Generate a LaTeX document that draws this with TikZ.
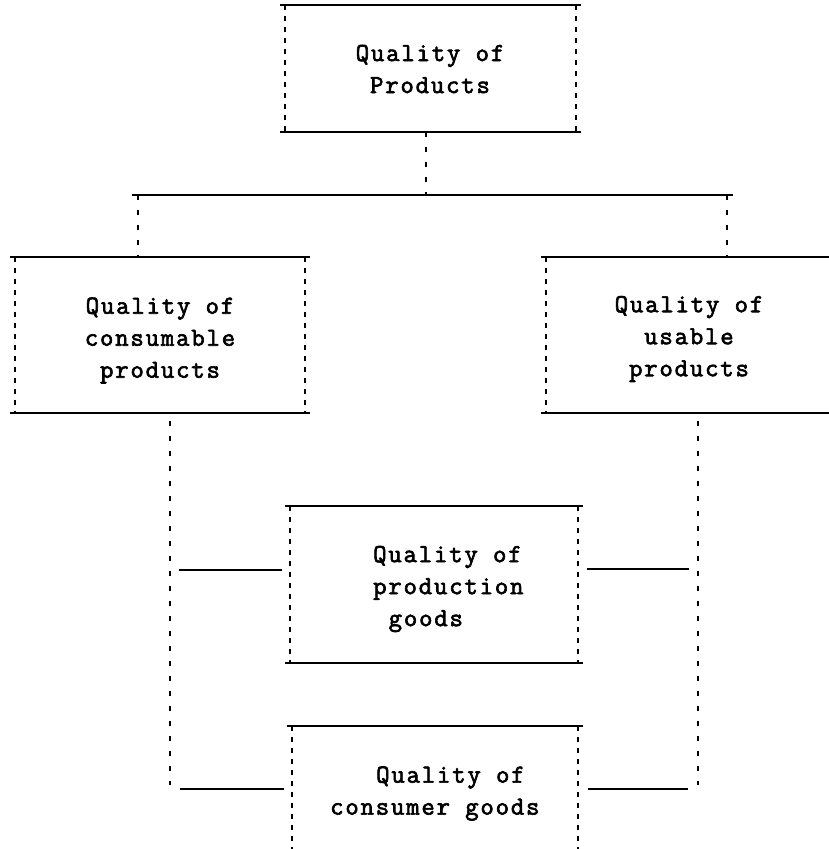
\documentclass[tikz,border=0pt]{standalone}
\usepackage{fontspec}
\newfontfamily\qualfont{Latin Modern Mono}[LetterSpace=7,FakeBold=2.5]
\begin{document}
\begin{tikzpicture}[x=1pt,y=-1pt,
  edge/.style={line width=2pt},
  side/.style={line width=2.2pt, dash pattern=on 5pt off 6pt},
  link/.style={line width=2.2pt, dash pattern=on 5pt off 10pt},
  tie/.style={line width=2pt},
  frame/.style={draw=none, inner sep=0pt, outer sep=0pt},
  words/.style={inner sep=0pt, align=center, font=\qualfont\fontsize{26}{32}\selectfont}
]
\useasboundingbox (0,0) rectangle (829,849);
\clip (0,0) rectangle (829,849);

% box frames (dashed sides, solid top and bottom)
\node[frame, minimum width=291pt, minimum height=127pt] (top)   at (430.5,68.5) {};
\node[frame, minimum width=290pt, minimum height=156pt] (cons)  at (160,335) {};
\node[frame, minimum width=294pt, minimum height=156pt] (usab)  at (693,335) {};
\node[frame, minimum width=288pt, minimum height=157pt] (prodg) at (434,584.5) {};
\node[frame, minimum width=286pt, minimum height=164pt] (consg) at (435,808) {};

\foreach \n in {top,cons,usab,prodg,consg}{
  \draw[edge] ([xshift=-5pt]\n.north west) -- ([xshift=5pt]\n.north east);
  \draw[edge] ([xshift=-5pt]\n.south west) -- ([xshift=5pt]\n.south east);
  \draw[side] (\n.north west) -- (\n.south west);
  \draw[side] (\n.north east) -- (\n.south east);
}

% box texts
\node[words] (top-t)  at (430,69)    {Quality of\\Products};
\node[words] (cons-t) at (160,340.5) {Quality of\\consumable\\products};
\node[words] (usab-t) at (689,339)   {Quality of\\usable\\products};
\node[words, align=left, anchor=west] (prodg-t) at (373,589)
  {Quality of\\production\\\hspace*{15.5pt}goods};
\node[words, align=left, anchor=west] (consg-t) at (330,793.5)
  {\hspace*{46pt}Quality of\\consumer goods};

% tree from the top box to the two product classes
\coordinate (barM) at (426,195);
\coordinate (barL) at (138,195);
\coordinate (barR) at (727,195);
\draw[link] (top.south -| barM) -- (barM);
\draw[edge] ([xshift=-6pt]barL) -- ([xshift=6pt]barR);
\draw[link] (barL) -- (cons.north -| barL);
\draw[link] (barR) -- (usab.north -| barR);

% links down to the goods boxes
\coordinate (lv) at (170,785);
\coordinate (rv) at (698,785);
\draw[link] ([yshift=-8pt]cons.south -| lv) -- (lv);
\draw[link] ([yshift=-8pt]usab.south -| rv) -- (rv);
\coordinate (lj1) at (179,570);
\coordinate (lj2) at (180,789);
\coordinate (rj1) at (689,569);
\coordinate (rj2) at (688,789);
\draw[tie] (lj1) -- ([xshift=-8pt]prodg.west |- lj1);
\draw[tie] (lj2) -- ([xshift=-8pt]consg.west |- lj2);
\draw[tie] (rj1) -- ([xshift=9pt]prodg.east |- rj1);
\draw[tie] (rj2) -- ([xshift=10pt]consg.east |- rj2);
\end{tikzpicture}
\end{document}
